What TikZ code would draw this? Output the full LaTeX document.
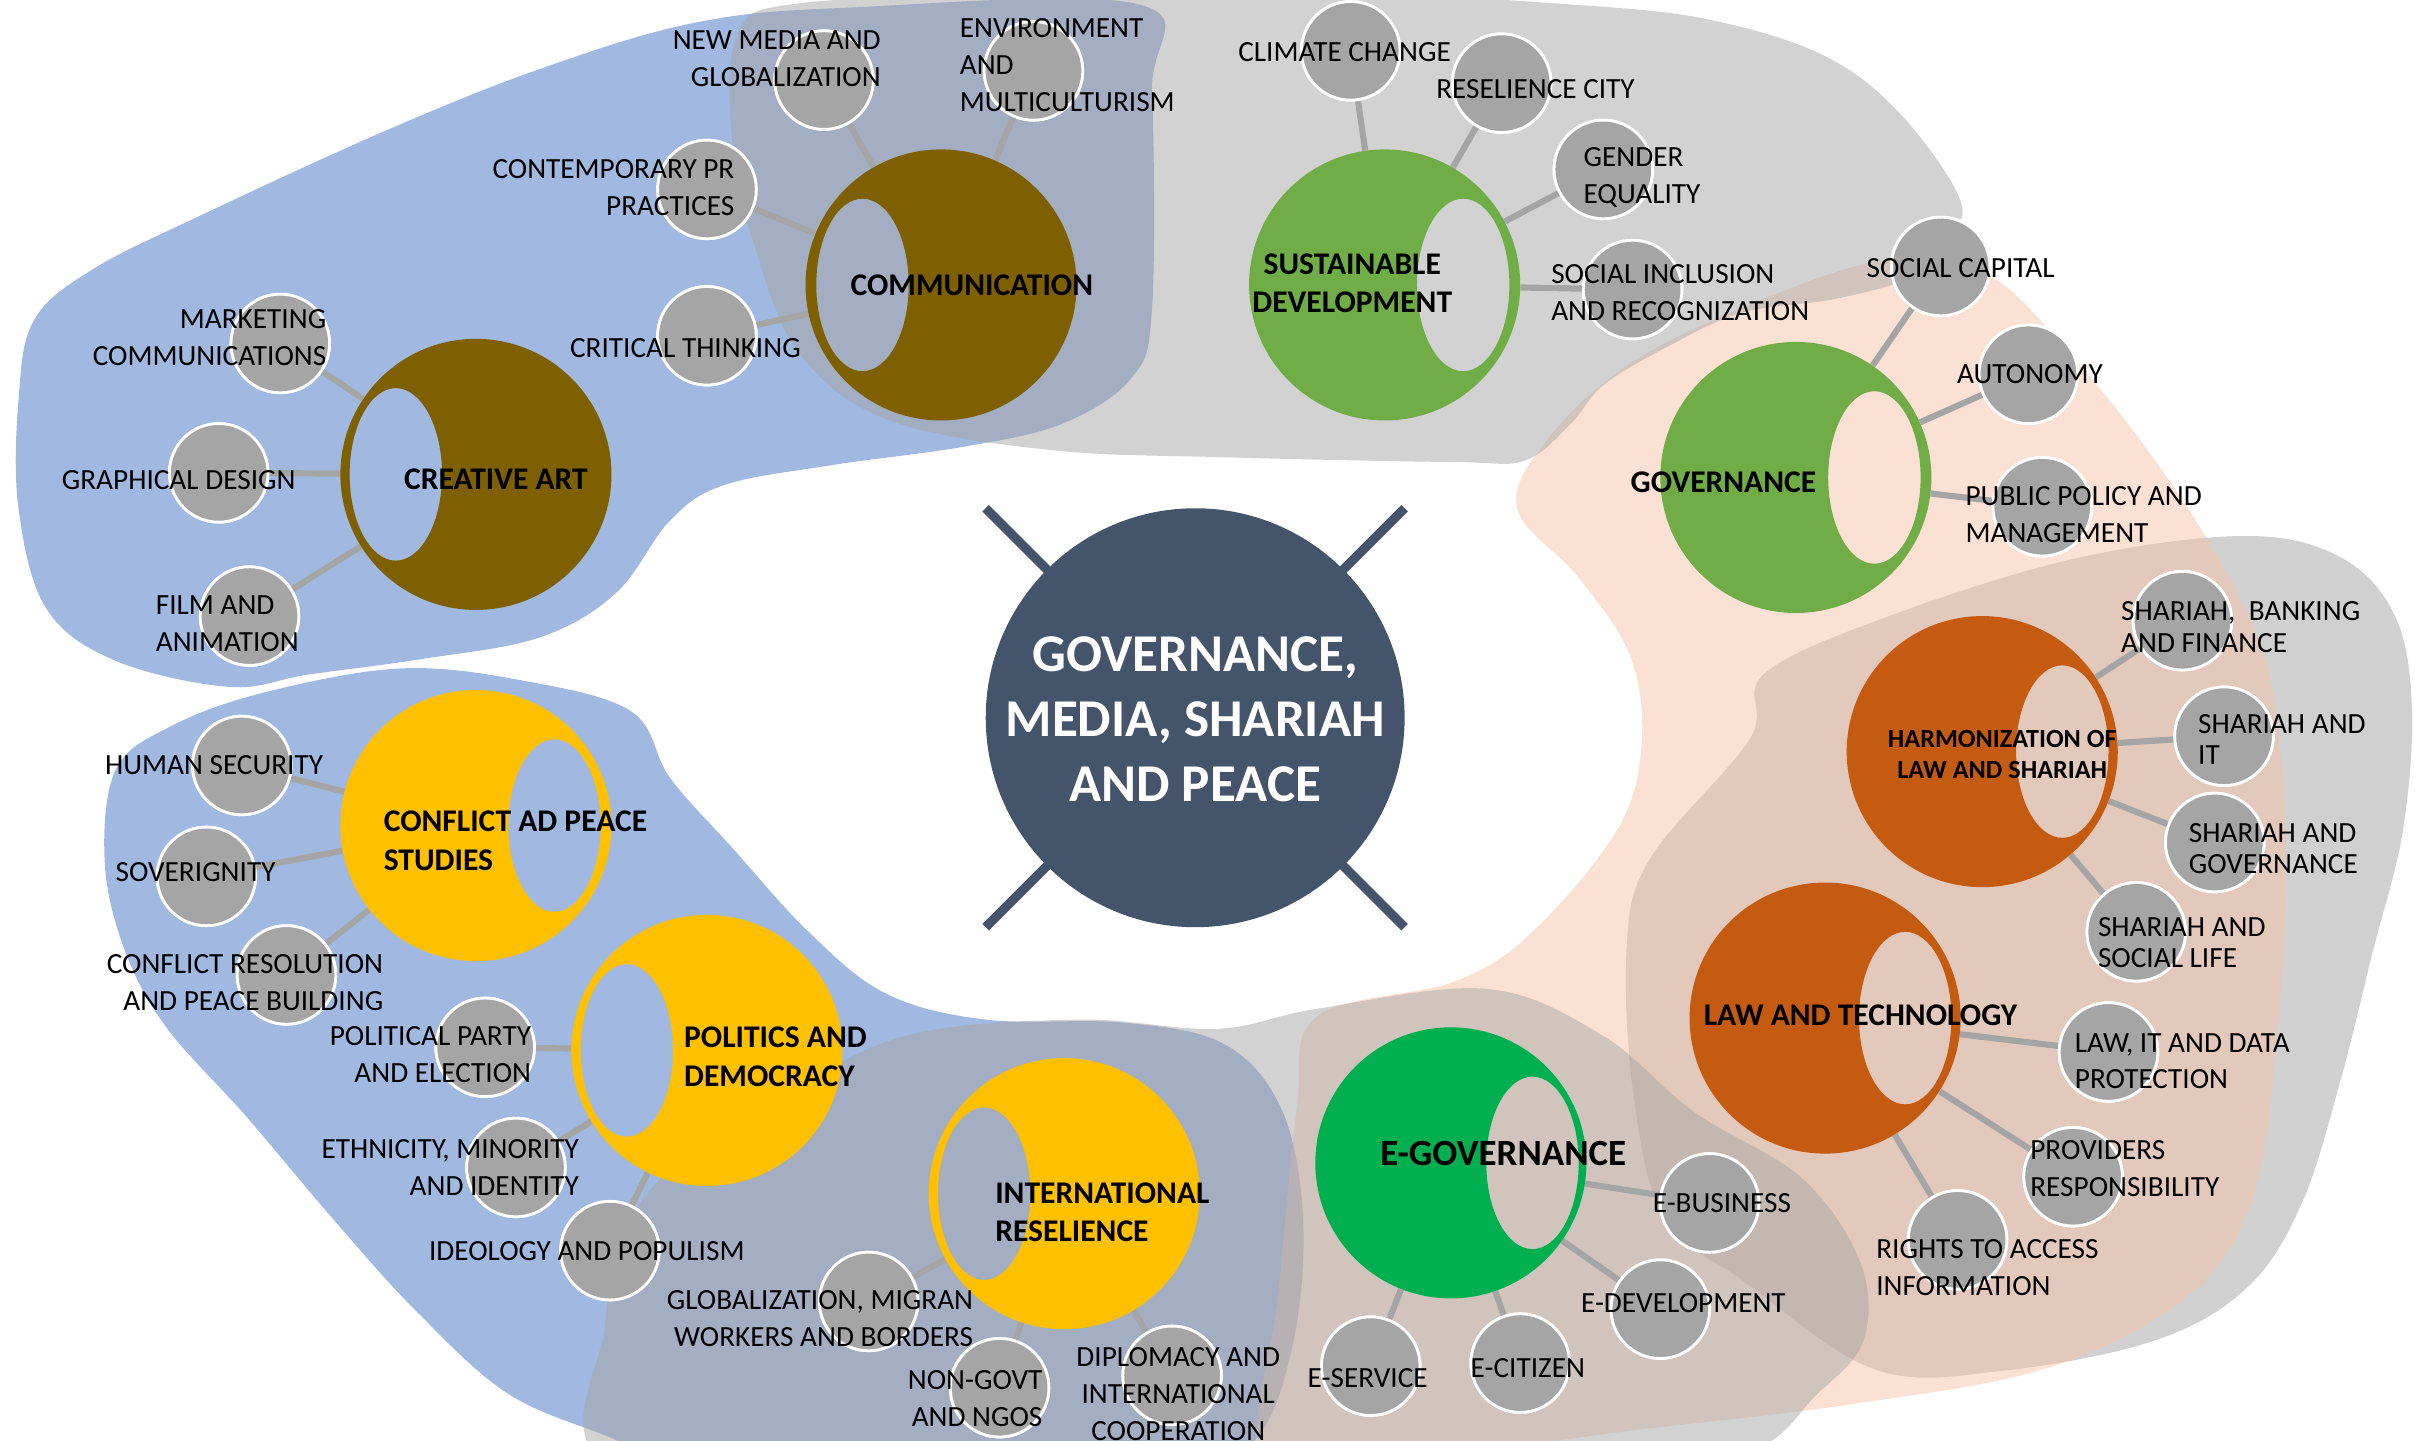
\documentclass[tikz,border=0pt]{standalone}
\usepackage{fontspec}
\setmainfont{Carlito}
\definecolor{blueb}{HTML}{A1B8E1}
\definecolor{grayb}{HTML}{D0D0D0}
\definecolor{peach}{HTML}{F7C4A9}
\definecolor{grayo}{HTML}{A6A6A6}
\definecolor{brownc}{HTML}{7F6000}
\definecolor{greenc}{HTML}{70AD47}
\definecolor{egreen}{HTML}{00B050}
\definecolor{orangec}{HTML}{C55A11}
\definecolor{yellowc}{HTML}{FFC000}
\definecolor{navyc}{HTML}{44546A}
\definecolor{snc}{HTML}{A5A5A5}
\newcommand{\mydonut}[4]{\fill[#1,even odd rule] (#2,#3) circle[radius=88pt] (#4,#3) ellipse[x radius=30pt,y radius=56pt];}
\begin{document}
\begin{tikzpicture}[x=1pt,y=-1pt,
 lbl/.style={font=\fontsize{19}{24}\selectfont, inner sep=0pt},
 lblh/.style={font=\fontsize{19}{20.5}\selectfont, inner sep=0pt},
 blbl/.style={font=\fontsize{20.5}{25}\selectfont\bfseries, inner sep=0pt},
 dn/.style={circle, minimum size=176pt, inner sep=0pt},
 sn/.style={circle, minimum size=64pt, inner sep=0pt, fill=snc, draw=white, line width=1.8pt},
 conn/.style={draw=snc, line width=4pt}]
\useasboundingbox (0,0) rectangle (1568,935);
% ---------- background blobs
\fill[blueb] plot[smooth cycle, tension=0.6] coordinates {(12,260) (22,208) (60,175) (130,140) (250,85) (350,45) (450,15) (550,5) (740,3) (748,60) (748,200) (735,245) (690,275) (626,290) (540,302) (470,315) (435,338) (400,385) (350,414) (273,428) (200,438) (149,446) (75,429) (30,395) (12,330)};
\fill[blueb] plot[smooth cycle, tension=0.6] coordinates {(68,560) (75,500) (110,472) (170,450) (260,434) (340,442) (410,462) (435,505) (475,550) (525,605) (575,645) (640,662) (730,664) (795,678) (832,720) (846,790) (840,870) (815,935) (760,960) (450,960) (400,935) (330,905) (269,850) (215,790) (160,725) (108,667) (81,617)};
\fill[grayb] plot[smooth cycle, tension=0.6] coordinates {(1146,437) (1232,398) (1350,362) (1458,348) (1520,362) (1555,400) (1566,460) (1560,540) (1540,620) (1520,700) (1495,780) (1460,835) (1400,870) (1300,890) (1217,889) (1131,831) (1081,792) (1061,714) (1056,617) (1071,558) (1136,480)};
\fill[peach, opacity=0.5] plot[smooth cycle, tension=0.6] coordinates {(985,330) (1005,285) (1060,235) (1150,192) (1230,168) (1290,178) (1340,225) (1400,300) (1450,380) (1476,450) (1484,560) (1478,680) (1462,780) (1420,842) (1330,888) (1200,912) (1050,930) (900,950) (820,945) (830,840) (842,720) (855,660) (945,637) (996,604) (1051,537) (1066,480) (1058,425) (1025,375)};
\fill[grayo, opacity=0.5] plot[smooth cycle, tension=0.6] coordinates {(478,25) (476,100) (490,160) (518,228) (575,272) (680,292) (800,297) (945,300) (990,299) (1020,275) (1041,250) (1081,226) (1131,203) (1192,194) (1240,180) (1266,155) (1272,128) (1232,72) (1182,35) (1106,12) (1021,3) (900,-3) (700,-3) (520,2)};
\fill[grayo, opacity=0.5] plot[smooth cycle, tension=0.6] coordinates {(395,950) (393,860) (405,800) (440,755) (510,710) (590,672) (700,662) (790,668) (855,655) (965,642) (1040,672) (1100,722) (1170,765) (1208,820) (1210,870) (1180,905) (1130,945) (1000,960) (600,960)};
% ---------- centre
\coordinate (x1) at (640,330);
\coordinate (x2) at (912,602);
\coordinate (x3) at (912,330);
\coordinate (x4) at (640,602);
\draw[navyc, line width=6pt] (x1) -- (x2);
\draw[navyc, line width=6pt] (x3) -- (x4);
\node[circle, fill=navyc, minimum size=272pt, inner sep=0pt] (C) at (776,466) {};
\node[font=\fontsize{34.5}{42}\selectfont\bfseries, text=white, align=center, inner sep=0pt] (Ct) at (776,467) {GOVERNANCE,\\MEDIA, SHARIAH\\AND PEACE};
% ---------- donut anchors
\node[dn] (CA) at (309,308) {};
\node[dn] (CO) at (611,185) {};
\node[dn] (SD) at (899,185) {};
\node[dn] (GO) at (1166,310) {};
\node[dn] (HA) at (1287,488) {};
\node[dn] (LT) at (1185,661) {};
\node[dn] (EG) at (942,755) {};
\node[dn] (CF) at (309,536) {};
\node[dn] (PD) at (459,682) {};
\node[dn] (IR) at (691,775) {};
% ---------- small nodes
\node[sn] (mk) at (182,223) {};
\node[sn] (gd) at (142,307) {};
\node[sn] (fa) at (162,400) {};
\node[sn] (nm) at (535,52) {};
\node[sn] (en) at (671,46) {};
\node[sn] (cp) at (459,123) {};
\node[sn] (ct) at (459,218) {};
\node[sn] (cc) at (877,33) {};
\node[sn] (rc) at (975,54) {};
\node[sn] (ge) at (1041,110) {};
\node[sn] (si) at (1060,188) {};
\node[sn] (sc) at (1260,173) {};
\node[sn] (au) at (1317,243) {};
\node[sn] (pp) at (1326,329) {};
\node[sn] (sb) at (1417,403) {};
\node[sn] (sit) at (1444,478) {};
\node[sn] (sg) at (1438,547) {};
\node[sn] (ss) at (1387,605) {};
\node[sn] (ld) at (1369,683) {};
\node[sn] (pr) at (1346,764) {};
\node[sn] (ra) at (1271,805) {};
\node[sn] (eb) at (1110,781) {};
\node[sn] (ed) at (1078,850) {};
\node[sn] (ec) at (987,885) {};
\node[sn] (es) at (890,887) {};
\node[sn] (hs) at (157,497) {};
\node[sn] (sv) at (134,569) {};
\node[sn] (cr) at (186,633) {};
\node[sn] (pe) at (315,680) {};
\node[sn] (et) at (335,758) {};
\node[sn] (ip) at (396,812) {};
\node[sn] (gm) at (564,845) {};
\node[sn] (ng) at (649,901) {};
\node[sn] (dp) at (761,893) {};
% ---------- connectors
\foreach \a/\b in {CA/mk,CA/gd,CA/fa,CO/nm,CO/en,CO/cp,CO/ct,SD/cc,SD/rc,SD/ge,SD/si,GO/sc,GO/au,GO/pp,HA/sb,HA/sit,HA/sg,HA/ss,LT/ld,LT/pr,LT/ra,EG/eb,EG/ed,EG/ec,EG/es,CF/hs,CF/sv,CF/cr,PD/pe,PD/et,PD/ip,IR/gm,IR/ng,IR/dp}
  {\draw[conn] (\a) -- (\b);}
% redraw small nodes over connectors
\foreach \n/\p in {mk/{(182,223)},gd/{(142,307)},fa/{(162,400)},nm/{(535,52)},en/{(671,46)},cp/{(459,123)},ct/{(459,218)},cc/{(877,33)},rc/{(975,54)},ge/{(1041,110)},si/{(1060,188)},sc/{(1260,173)},au/{(1317,243)},pp/{(1326,329)},sb/{(1417,403)},sit/{(1444,478)},sg/{(1438,547)},ss/{(1387,605)},ld/{(1369,683)},pr/{(1346,764)},ra/{(1271,805)},eb/{(1110,781)},ed/{(1078,850)},ec/{(987,885)},es/{(890,887)},hs/{(157,497)},sv/{(134,569)},cr/{(186,633)},pe/{(315,680)},et/{(335,758)},ip/{(396,812)},gm/{(564,845)},ng/{(649,901)},dp/{(761,893)}}
  {\node[sn] at \p {};}
% ---------- donuts
\mydonut{brownc}{309}{308}{257}
\mydonut{brownc}{611}{185}{560}
\mydonut{greenc}{899}{185}{950}
\mydonut{greenc}{1166}{310}{1217}
\mydonut{orangec}{1287}{488}{1339}
\mydonut{orangec}{1185}{661}{1237}
\mydonut{egreen}{942}{755}{995}
\mydonut{yellowc}{309}{536}{360}
\mydonut{yellowc}{459}{682}{407}
\mydonut{yellowc}{691}{775}{639}
% ---------- donut labels
\node[blbl] (tCA) at (322,311) {CREATIVE ART};
\node[blbl] (tCO) at (631,185) {COMMUNICATION};
\node[blbl, align=center] (tSD) at (878,184) {SUSTAINABLE\\DEVELOPMENT};
\node[blbl] (tGO) at (1119,313) {GOVERNANCE};
\node[font=\fontsize{17}{20}\selectfont\bfseries, inner sep=0pt, align=center] (tHA) at (1300,490) {HARMONIZATION OF\\LAW AND SHARIAH};
\node[blbl] (tLT) at (1208,659) {LAW AND TECHNOLOGY};
\node[font=\fontsize{24}{28}\selectfont\bfseries, inner sep=0pt] (tEG) at (976,749) {E-GOVERNANCE};
\node[blbl, align=left, anchor=west] (tCF) at (249,546) {CONFLICT AD PEACE\\STUDIES};
\node[blbl, align=left, anchor=west] (tPD) at (444,686) {POLITICS AND\\DEMOCRACY};
\node[blbl, align=left, anchor=west] (tIR) at (646,787) {INTERNATIONAL\\RESELIENCE};
% ---------- small labels
\node[lbl, align=right, anchor=east] (tmk) at (212,219) {MARKETING\\COMMUNICATIONS};
\node[lbl] (tgd) at (116,312) {GRAPHICAL DESIGN};
\node[lbl, align=left, anchor=west] (tfa) at (101,405) {FILM AND\\ANIMATION};
\node[lbl, align=right, anchor=east] (tnm) at (572,38) {NEW MEDIA AND\\GLOBALIZATION};
\node[lbl, align=left, anchor=west] (ten) at (623,42) {ENVIRONMENT\\AND\\MULTICULTURISM};
\node[lbl, align=right, anchor=east] (tcp) at (477,122) {CONTEMPORARY PR\\PRACTICES};
\node[lbl] (tct) at (445,226) {CRITICAL THINKING};
\node[lbl] (tcc) at (873,34) {CLIMATE CHANGE};
\node[lbl] (trc) at (997,58) {RESELIENCE CITY};
\node[lbl, align=left, anchor=west] (tge) at (1028,115) {GENDER\\EQUALITY};
\node[lbl, align=left, anchor=west] (tsi) at (1007,190) {SOCIAL INCLUSION\\AND RECOGNIZATION};
\node[lbl] (tsc) at (1273,174) {SOCIAL CAPITAL};
\node[lbl] (tau) at (1318,243) {AUTONOMY};
\node[lbl, align=left, anchor=west] (tpp) at (1276,334) {PUBLIC POLICY AND\\MANAGEMENT};
\node[lblh, align=left, anchor=west] (tsb) at (1377,407) {SHARIAH,\ \ BANKING\\AND FINANCE};
\node[lblh, align=left, anchor=west] (tsit) at (1427,480) {SHARIAH AND\\IT};
\node[lblh, align=left, anchor=west] (tsg) at (1421,551) {SHARIAH AND\\GOVERNANCE};
\node[lblh, align=left, anchor=west] (tss) at (1362,612) {SHARIAH AND\\SOCIAL LIFE};
\node[lbl, align=left, anchor=west] (tld) at (1347,689) {LAW, IT AND DATA\\PROTECTION};
\node[lbl, align=left, anchor=west] (tpr) at (1318,759) {PROVIDERS\\RESPONSIBILITY};
\node[lbl, align=left, anchor=west] (tra) at (1218,823) {RIGHTS TO ACCESS\\INFORMATION};
\node[lbl] (teb) at (1118,781) {E-BUSINESS};
\node[lbl] (ted) at (1093,846) {E-DEVELOPMENT};
\node[lbl] (tec) at (992,888) {E-CITIZEN};
\node[lbl] (tes) at (888,895) {E-SERVICE};
\node[lbl] (ths) at (139,497) {HUMAN SECURITY};
\node[lbl] (tsv) at (127,566) {SOVERIGNITY};
\node[lbl, align=right, anchor=east] (tcr) at (249,638) {CONFLICT RESOLUTION\\AND PEACE BUILDING};
\node[lbl, align=right, anchor=east] (tpe) at (345,685) {POLITICAL PARTY\\AND ELECTION};
\node[lbl, align=right, anchor=east] (tet) at (376,758) {ETHNICITY, MINORITY\\AND IDENTITY};
\node[lbl] (tip) at (381,812) {IDEOLOGY AND POPULISM};
\node[lbl, align=right, anchor=east] (tgm) at (632,856) {GLOBALIZATION, MIGRAN\\WORKERS AND BORDERS};
\node[lbl, align=right, anchor=east] (tng) at (677,908) {NON-GOVT\\AND NGOS};
\node[lbl, align=center] (tdp) at (765,905) {DIPLOMACY AND\\INTERNATIONAL\\COOPERATION};
\end{tikzpicture}
\end{document}
